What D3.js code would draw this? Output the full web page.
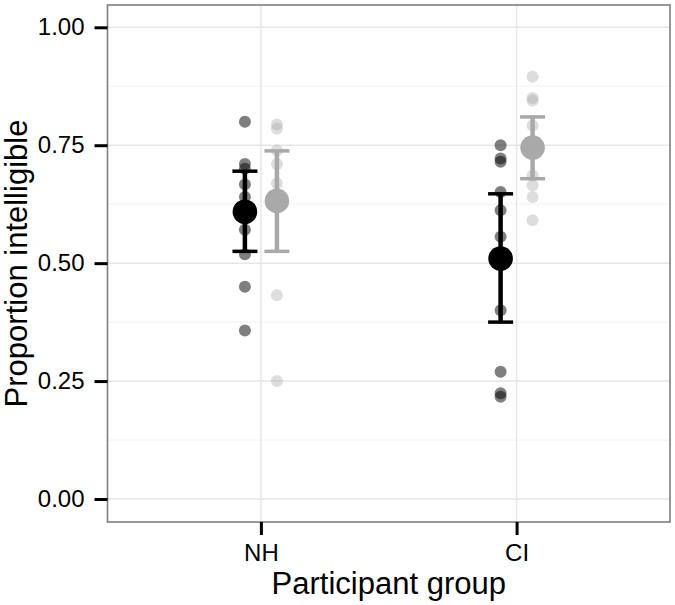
<!DOCTYPE html>
<html>
<head>
<meta charset="utf-8">
<script src="https://cdn.jsdelivr.net/npm/d3@7"></script>
<style>
    body { margin: 0; background: white; }
    text { font-family: "Liberation Sans", Arial, sans-serif; }
</style>
</head>
<body>
<svg></svg>
<script>
var groups = ["NH", "CI"];
var series = ["dark", "light"];

// individual participant proportions
var nhDark = [0.80, 0.71, 0.70, 0.667, 0.64, 0.571, 0.519, 0.45, 0.357];
var nhLight = [0.794, 0.785, 0.739, 0.71, 0.669, 0.432, 0.25];
var ciDark = [0.75, 0.722, 0.715, 0.651, 0.612, 0.556, 0.40, 0.27, 0.224, 0.217];
var ciLight = [0.895, 0.85, 0.845, 0.792, 0.686, 0.665, 0.64, 0.591];

// group means and error bar limits, order: dark, light
var nhMean = [0.609, 0.632];
var nhLower = [0.525, 0.525];
var nhUpper = [0.695, 0.738];
var ciMean = [0.51, 0.745];
var ciLower = [0.375, 0.679];
var ciUpper = [0.647, 0.81];

var yTicks = [0, 0.25, 0.5, 0.75, 1];
var yMinor = [0.125, 0.375, 0.625, 0.875];

var width = 675, height = 605;
var panel = {left: 107.5, right: 670, top: 5, bottom: 522};
var seriesColor = {dark: "#000000", light: "#a9a9a9"};
var pointOpacity = {dark: 0.5, light: 0.4};
var tickLength = 13;

var svg = d3.select("svg")
    .attr("width", width)
    .attr("height", height);

var x = d3.scalePoint()
    .domain(groups)
    .range([panel.left, panel.right])
    .padding(0.6);

var dodge = d3.scaleBand()
    .domain(series)
    .range([-32, 32]);

var y = d3.scaleLinear()
    .domain([0, 1])
    .range([499, 27.3]);

function dodgeX(group, s) {
    return x(group) + dodge(s) + dodge.bandwidth() / 2;
}

var points = [];
[[nhDark, "NH", "dark"], [nhLight, "NH", "light"], [ciDark, "CI", "dark"], [ciLight, "CI", "light"]]
    .forEach(function(entry) {
        entry[0].forEach(function(v) {
            points.push({group: entry[1], series: entry[2], value: v});
        });
    });

var summary = [];
[["NH", nhMean, nhLower, nhUpper], ["CI", ciMean, ciLower, ciUpper]].forEach(function(entry) {
    series.forEach(function(s, i) {
        summary.push({group: entry[0], series: s, mean: entry[1][i], lower: entry[2][i], upper: entry[3][i]});
    });
});

// panel background + grid
svg.append("rect")
    .attr("x", panel.left).attr("y", panel.top)
    .attr("width", panel.right - panel.left)
    .attr("height", panel.bottom - panel.top)
    .attr("fill", "white");

var grid = svg.append("g").attr("id", "grid");
grid.selectAll("line.minor")
    .data(yMinor)
    .enter()
    .append("line")
    .attr("class", "minor")
    .attr("x1", panel.left).attr("x2", panel.right)
    .attr("y1", function(d) { return y(d); })
    .attr("y2", function(d) { return y(d); })
    .attr("stroke", "#f4f4f4")
    .attr("stroke-width", 1.2);
grid.selectAll("line.majorY")
    .data(yTicks)
    .enter()
    .append("line")
    .attr("class", "majorY")
    .attr("x1", panel.left).attr("x2", panel.right)
    .attr("y1", function(d) { return y(d); })
    .attr("y2", function(d) { return y(d); })
    .attr("stroke", "#e6e6e6")
    .attr("stroke-width", 1.5);
grid.selectAll("line.majorX")
    .data(groups)
    .enter()
    .append("line")
    .attr("class", "majorX")
    .attr("y1", panel.top).attr("y2", panel.bottom)
    .attr("x1", function(d) { return x(d); })
    .attr("x2", function(d) { return x(d); })
    .attr("stroke", "#e6e6e6")
    .attr("stroke-width", 1.5);

// individual points
svg.append("g")
    .attr("id", "points")
    .selectAll("circle")
    .data(points)
    .enter()
    .append("circle")
    .attr("cx", function(d) { return dodgeX(d.group, d.series); })
    .attr("cy", function(d) { return y(d.value); })
    .attr("r", 6)
    .attr("fill", function(d) { return seriesColor[d.series]; })
    .attr("fill-opacity", function(d) { return pointOpacity[d.series]; });

// error bars
var bars = svg.append("g").attr("id", "errorbars");
bars.selectAll("line.stem")
    .data(summary)
    .enter()
    .append("line")
    .attr("class", "stem")
    .attr("x1", function(d) { return dodgeX(d.group, d.series); })
    .attr("x2", function(d) { return dodgeX(d.group, d.series); })
    .attr("y1", function(d) { return y(d.lower); })
    .attr("y2", function(d) { return y(d.upper); })
    .attr("stroke", function(d) { return seriesColor[d.series]; })
    .attr("stroke-width", 4.5);
["lower", "upper"].forEach(function(key) {
    bars.selectAll("line.cap-" + key)
        .data(summary)
        .enter()
        .append("line")
        .attr("class", "cap-" + key)
        .attr("x1", function(d) { return dodgeX(d.group, d.series) - 12.5; })
        .attr("x2", function(d) { return dodgeX(d.group, d.series) + 12.5; })
        .attr("y1", function(d) { return y(d[key]); })
        .attr("y2", function(d) { return y(d[key]); })
        .attr("stroke", function(d) { return seriesColor[d.series]; })
        .attr("stroke-width", 3.5);
});

// means
svg.append("g")
    .attr("id", "means")
    .selectAll("circle")
    .data(summary)
    .enter()
    .append("circle")
    .attr("cx", function(d) { return dodgeX(d.group, d.series); })
    .attr("cy", function(d) { return y(d.mean); })
    .attr("r", 12.3)
    .attr("fill", function(d) { return seriesColor[d.series]; });

// panel border
svg.append("rect")
    .attr("x", panel.left).attr("y", panel.top)
    .attr("width", panel.right - panel.left)
    .attr("height", panel.bottom - panel.top)
    .attr("fill", "none")
    .attr("stroke", "#7f7f7f")
    .attr("stroke-width", 1.6);

// axes
var yAxis = svg.append("g")
    .attr("transform", "translate(" + panel.left + ",0)")
    .call(d3.axisLeft(y).tickValues(yTicks).tickFormat(d3.format(".2f")).tickSize(tickLength).tickPadding(10));
var xAxis = svg.append("g")
    .attr("transform", "translate(0," + panel.bottom + ")")
    .call(d3.axisBottom(x).tickSize(tickLength).tickPadding(9));

[yAxis, xAxis].forEach(function(axis) {
    axis.select(".domain").remove();
    axis.selectAll(".tick line").attr("stroke", "#000").attr("stroke-width", 3);
    axis.selectAll(".tick text")
        .attr("fill", "#000")
        .style("font-size", "24px");
});

svg.append("text")
    .attr("x", (panel.left + panel.right) / 2)
    .attr("y", 594)
    .attr("text-anchor", "middle")
    .style("font-size", "31px")
    .attr("fill", "#000")
    .text("Participant group");

svg.append("text")
    .attr("transform", "translate(27," + ((panel.top + panel.bottom) / 2) + ") rotate(-90)")
    .attr("text-anchor", "middle")
    .style("font-size", "31px")
    .attr("fill", "#000")
    .text("Proportion intelligible");
</script>
</body>
</html>
